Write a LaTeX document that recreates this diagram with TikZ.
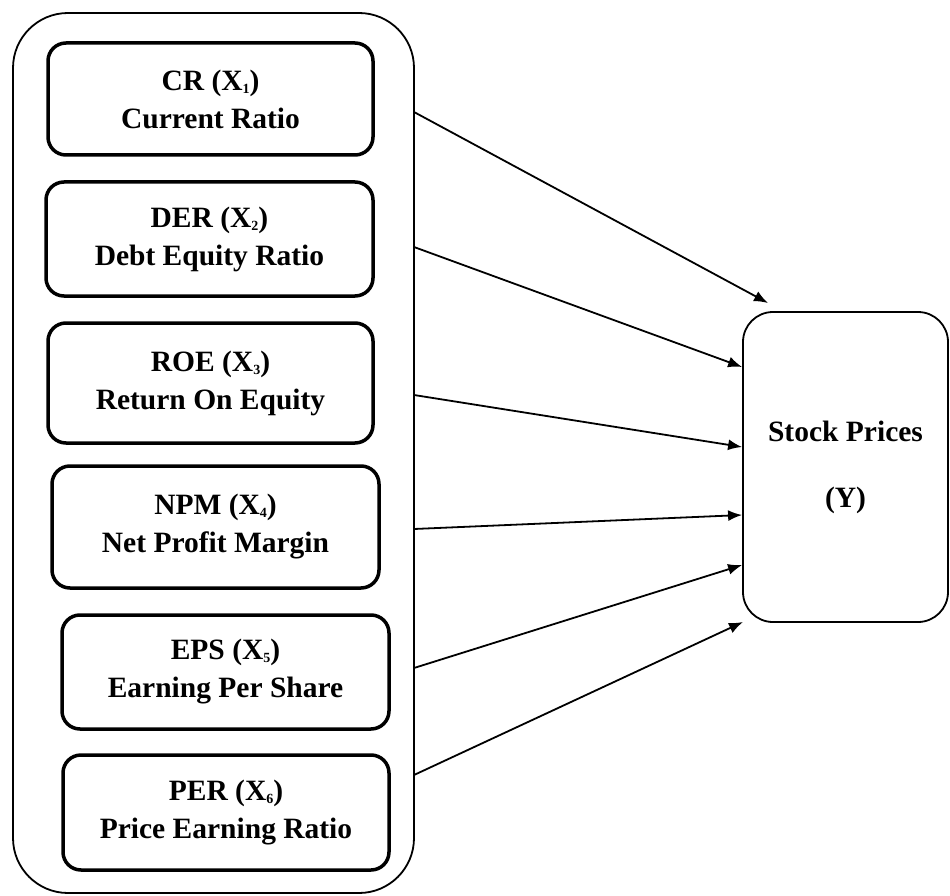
\documentclass[tikz,border=0pt]{standalone}
\usepackage{fontspec}
\setmainfont{Liberation Serif}
\usetikzlibrary{arrows.meta}
\newcommand{\subidx}[1]{\raisebox{-3pt}{\fontsize{14}{14}\selectfont #1}}
\begin{document}
\begin{tikzpicture}[x=1pt,y=-1pt,
  varbox/.style={draw, line width=3.5pt, rounded corners=18pt, align=center,
    font=\fontsize{29.5}{38}\selectfont\bfseries, inner sep=0pt},
  groupbox/.style={draw, line width=1.8pt, rounded corners=55pt, inner sep=0pt},
  ybox/.style={draw, line width=1.8pt, rounded corners=30pt, align=center,
    font=\fontsize{29.5}{38}\selectfont\bfseries, inner sep=0pt},
  link/.style={line width=1.8pt, -{Latex[length=14pt,width=11pt]}}]
\useasboundingbox (0,0) rectangle (950,896);

\node[groupbox, minimum width=401pt, minimum height=880pt] (outer) at (213.5,453) {};

\node[varbox, minimum width=325pt, minimum height=112pt] (cr) at (210.5,99) {CR (X\subidx{1})\\Current Ratio};
\node[varbox, minimum width=327pt, minimum height=114pt] (der) at (209.5,239) {DER (X\subidx{2})\\Debt Equity Ratio};
\node[varbox, minimum width=325pt, minimum height=120pt] (roe) at (210.5,383) {ROE (X\subidx{3})\\Return On Equity};
\node[varbox, minimum width=327pt, minimum height=122pt] (npm) at (215.5,527) {NPM (X\subidx{4})\\Net Profit Margin};
\node[varbox, minimum width=327pt, minimum height=114pt] (eps) at (225.5,672) {EPS (X\subidx{5})\\Earning Per Share};
\node[varbox, minimum width=326pt, minimum height=115pt] (per) at (226,812.5) {PER (X\subidx{6})\\Price Earning Ratio};

\node[ybox, minimum width=205pt, minimum height=310pt] (y) at (845.5,467) {Stock Prices\\[28pt](Y)};

\coordinate (s1) at (414,112);
\coordinate (s2) at (414,247);
\coordinate (s3) at (414,395);
\coordinate (s4) at (414,529);
\coordinate (s5) at (414,668);
\coordinate (s6) at (414,775);

\coordinate (t1) at (768,303);
\coordinate (t6) at (743,622);

\draw[link] (s1) -- (t1);
\draw[link] (s2) -- (y.west |- 0,367);
\draw[link] (s3) -- (y.west |- 0,447);
\draw[link] (s4) -- (y.west |- 0,515);
\draw[link] (s5) -- (y.west |- 0,565);
\draw[link] (s6) -- (t6);
\end{tikzpicture}
\end{document}
